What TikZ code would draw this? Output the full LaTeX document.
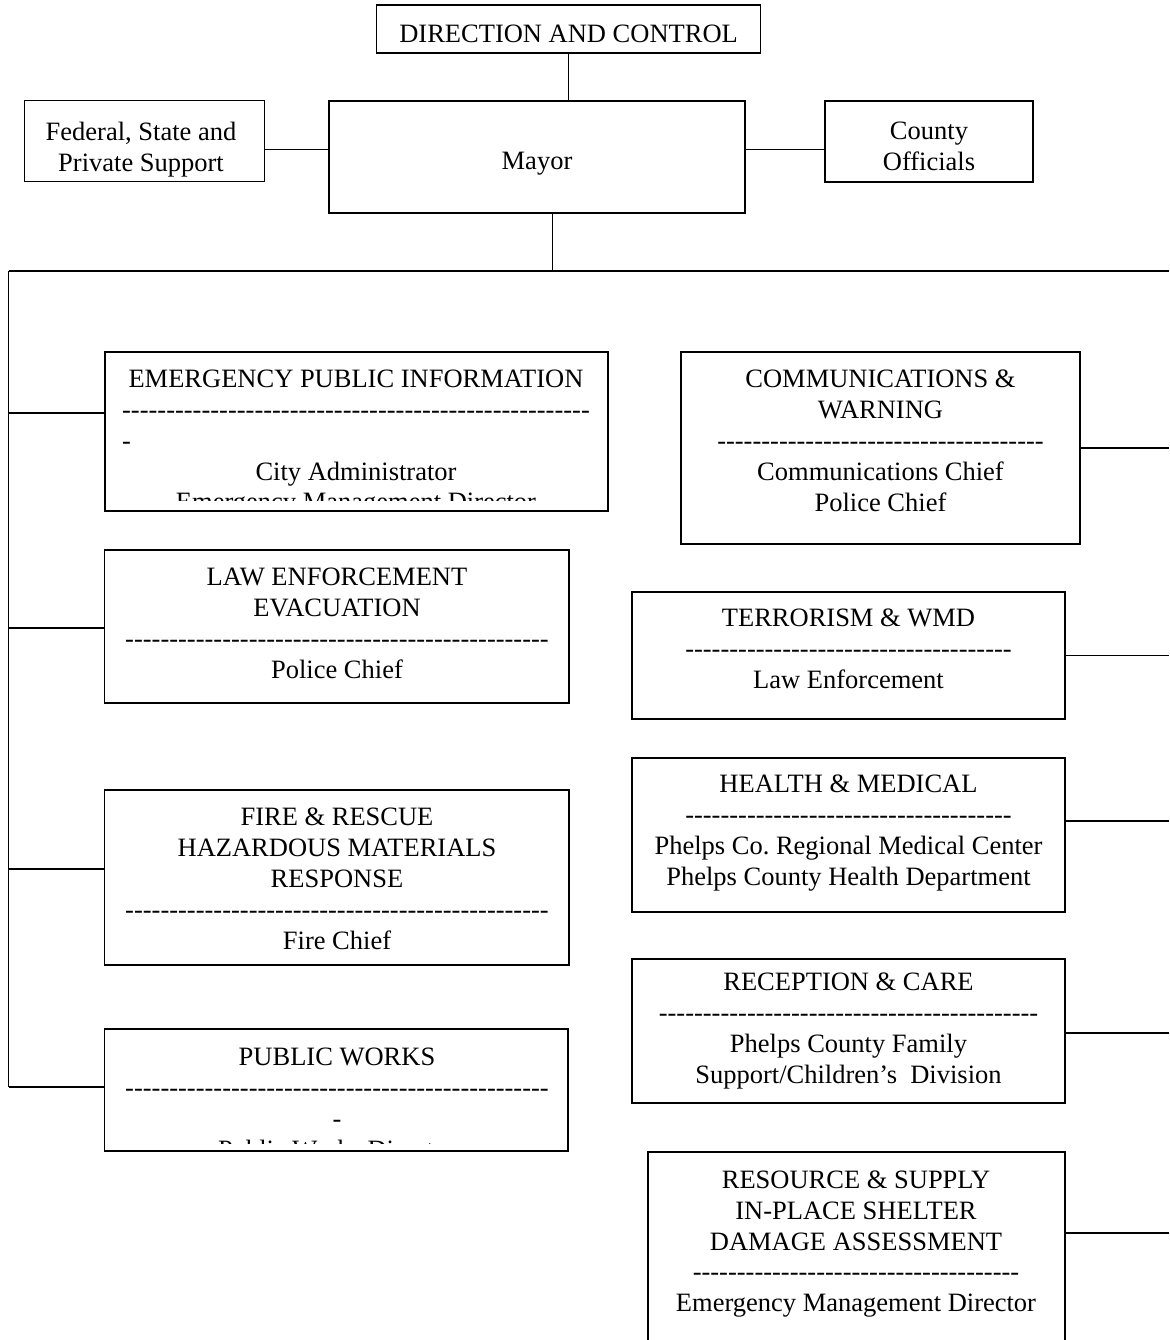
\documentclass[tikz,border=0pt]{standalone}
\usepackage{fontspec}
\setmainfont{Liberation Serif}
\frenchspacing
\newcount\hycnt
\newcommand\hyph[1]{\begingroup\hycnt=0 \loop\ifnum\hycnt<#1 -\kern0pt\advance\hycnt by 1 \repeat\endgroup}
\newlength\hyw
\tikzset{
  box/.style={draw, line width=1.5pt, inner sep=0pt},
  txt/.style={anchor=north, inner sep=0pt, align=center, font=\fontsize{26.5}{30.8}\selectfont},
  conn/.style={draw, line width=1.4pt}
}
\begin{document}
\begin{tikzpicture}[x=1pt,y=-1pt]
\useasboundingbox (0,0) rectangle (1169,1340);
\clip (0,0) rectangle (1169,1340);

% top boxes
\node[box, minimum width=384pt, minimum height=48pt] (dc) at (568.6,29) {};
\node[txt] (dct) at (568.6,25) {DIRECTION AND CONTROL};
\node[box, minimum width=240pt, minimum height=81pt] (fed) at (144.6,141.2) {};
\node[txt] (fedt) at (141,121.7) {Federal, State and\\Private Support};
\node[box, minimum width=416pt, minimum height=112pt] (mayor) at (537,157) {};
\node[txt] (mayort) at (537,151.7) {Mayor};
\node[box, minimum width=208pt, minimum height=81pt] (county) at (928.8,141.3) {};
\node[txt] (countyt) at (929,121.7) {County\\Officials};

% left boxes
\node[box, minimum width=503pt, minimum height=159pt] (epi) at (356.5,431.5) {};
\begin{scope}
  \clip (106,353) rectangle (607,500);
  \node[txt] (epit) at (356,370) {EMERGENCY PUBLIC INFORMATION\\\hyph{53}\\{\settowidth{\hyw}{\hyph{53}}\makebox[\hyw][l]{-}}\\City Administrator\\Emergency Management Director};
\end{scope}
\node[box, minimum width=464.5pt, minimum height=153pt] (le) at (336.7,626.5) {};
\node[txt] (let) at (337,568) {LAW ENFORCEMENT\\EVACUATION\\\hyph{48}\\Police Chief};
\node[box, minimum width=464.5pt, minimum height=175pt] (fire) at (336.7,877.5) {};
\node[txt] (firet) at (337,808) {FIRE \& RESCUE\\HAZARDOUS MATERIALS\\RESPONSE\\\hyph{48}\\Fire Chief};
\node[box, minimum width=463.5pt, minimum height=122pt] (pw) at (336.2,1090) {};
\begin{scope}
  \clip (106,1030) rectangle (567,1143);
  \node[txt] (pwt) at (337,1048) {PUBLIC WORKS\\\hyph{48}\\-\\Public Works Director};
\end{scope}

% right boxes
\node[box, minimum width=399pt, minimum height=192pt] (comm) at (880.5,448) {};
\node[txt] (commt) at (880.5,370) {COMMUNICATIONS \&\\WARNING\\\hyph{37}\\Communications Chief\\Police Chief};
\node[box, minimum width=433pt, minimum height=127pt] (terr) at (848.5,655.5) {};
\node[txt] (terrt) at (848.5,609) {TERRORISM \& WMD\\\hyph{37}\\Law Enforcement};
\node[box, minimum width=433pt, minimum height=154pt] (health) at (848.5,835) {};
\node[txt] (healtht) at (848.5,775) {HEALTH \& MEDICAL\\\hyph{37}\\Phelps Co. Regional Medical Center\\Phelps County Health Department};
\node[box, minimum width=433pt, minimum height=144pt] (rec) at (848.5,1031) {};
\node[txt] (rect) at (848.5,973) {RECEPTION \& CARE\\\hyph{43}\\Phelps County Family\\Support/Children’s\ \ Division};
\node[box, minimum width=417pt, minimum height=208pt] (res) at (856.5,1256) {};
\node[txt] (rest) at (856,1170.7) {RESOURCE \& SUPPLY\\IN-PLACE SHELTER\\DAMAGE ASSESSMENT\\\hyph{37}\\Emergency Management Director};

% coordinates
\coordinate (hy) at (0,149.3);
\coordinate (bus) at (552.6,271);
\coordinate (busL) at (8.5,271);
\coordinate (busR) at (1169,271);
\coordinate (cEPI) at (8.5,413);
\coordinate (cLE) at (8.5,628);
\coordinate (cFIRE) at (8.5,869);
\coordinate (cPW) at (8.5,1087);
\coordinate (rCOMM) at (1169,448);
\coordinate (rTERR) at (1169,655.5);
\coordinate (rHEALTH) at (1169,821);
\coordinate (rREC) at (1169,1033);
\coordinate (rRES) at (1169,1233);

% connectors
\path[conn] (dc.south) -- (dc.south |- mayor.north);
\path[conn] (fed.east |- hy) -- (mayor.west |- hy);
\path[conn] (mayor.east |- hy) -- (county.west |- hy);
\path[conn] (bus |- mayor.south) -- (bus);
\path[conn] (busL) -- (busR);
\path[conn] (busL) -- (cPW);
\path[conn] (cEPI) -- (cEPI -| epi.west);
\path[conn] (cLE) -- (cLE -| le.west);
\path[conn] (cFIRE) -- (cFIRE -| fire.west);
\path[conn] (cPW) -- (cPW -| pw.west);
\path[conn] (comm.east |- rCOMM) -- (rCOMM);
\path[conn] (terr.east |- rTERR) -- (rTERR);
\path[conn] (health.east |- rHEALTH) -- (rHEALTH);
\path[conn] (rec.east |- rREC) -- (rREC);
\path[conn] (res.east |- rRES) -- (rRES);
\end{tikzpicture}
\end{document}
